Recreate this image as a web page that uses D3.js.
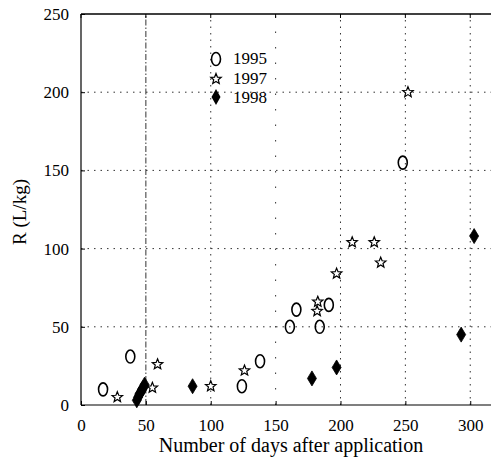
<!DOCTYPE html>
<html><head><meta charset="utf-8">
<script src="https://cdn.jsdelivr.net/npm/d3@7"></script>
<style>body{margin:0;background:#fff}svg{display:block}text{font-family:"Liberation Serif","Times New Roman",serif;fill:#000}</style>
</head><body><svg id="c" width="491" height="460"></svg>
<script>
const days1995 = [17, 38, 124, 138, 161, 166, 184, 191, 248];
const r1995    = [10, 31, 12, 28, 50, 61, 50, 64, 155];
const days1997 = [28, 55, 59, 100, 126, 182, 182.5, 197, 209, 226, 231, 252];
const r1997    = [5, 11, 26, 12, 22, 60, 66, 84, 104, 104, 91, 200];
const days1998 = [43, 44, 45, 46, 47, 48, 49, 86, 178, 197, 293, 303];
const r1998    = [3, 5, 7, 8, 10, 11, 13, 12, 17, 24, 45, 108];
const xTicks = [0, 50, 100, 150, 200, 250, 300];
const yTicks = [0, 50, 100, 150, 200, 250];
const legendLabels = ["1995", "1997", "1998"];

const svg = d3.select("#c");
const x = d3.scaleLinear().domain([0, 316]).range([81, 491]);
const y = d3.scaleLinear().domain([0, 250]).range([405, 14]);

// grid
const g = svg.append("g").attr("stroke", "#333").attr("stroke-width", 1).attr("stroke-dasharray", "1.5,5");
xTicks.filter(t => t > 0).forEach(t => g.append("line").attr("x1", x(t)).attr("x2", x(t)).attr("y1", y(0)).attr("y2", y(250)).attr("stroke-dasharray", t === 50 ? "6,2,1.5,2" : (t === 150 ? "1.5,14" : "1.5,5")));
yTicks.filter(t => t > 0 && t < 250).forEach(t => g.append("line").attr("x1", x(0)).attr("x2", 491).attr("y1", y(t)).attr("y2", y(t)));

// frame
const f = svg.append("g").attr("stroke", "#000").attr("stroke-width", 1.2).attr("fill", "none");
f.append("line").attr("x1", x(0)).attr("x2", x(0)).attr("y1", y(0)).attr("y2", y(250));
f.append("line").attr("x1", x(0)).attr("x2", 491).attr("y1", y(0)).attr("y2", y(0));
f.append("line").attr("x1", x(0)).attr("x2", 491).attr("y1", y(250)).attr("y2", y(250)).attr("stroke-width", 1.6);

// axes
const xa = svg.append("g").attr("transform", `translate(0,${y(0)})`)
  .call(d3.axisBottom(x).tickValues(xTicks).tickSize(-4).tickPadding(14).tickFormat(d3.format("d")));
xa.select(".domain").remove();
xa.selectAll("text").attr("font-size", 17).attr("font-family", "Liberation Serif");
xTicks.forEach(t => svg.append("line").attr("x1", x(t)).attr("x2", x(t)).attr("y1", y(250)).attr("y2", y(250) + 4).attr("stroke", "#000"));
const ya = svg.append("g").attr("transform", `translate(${x(0)},0)`)
  .call(d3.axisLeft(y).tickValues(yTicks).tickSize(-4).tickPadding(12).tickFormat(d3.format("d")));
ya.select(".domain").remove();
ya.selectAll("text").attr("font-size", 17).attr("font-family", "Liberation Serif");

// titles
svg.append("text").attr("x", 291).attr("y", 452).attr("text-anchor", "middle").attr("font-size", 20).text("Number of days after application");
svg.append("text").attr("transform", "translate(26,212) rotate(-90)").attr("text-anchor", "middle").attr("font-size", 19).text("R (L/kg)");

// markers
function starPath(cx, cy, ro, ri) {
  const pts = [];
  for (let i = 0; i < 10; i++) {
    const a = -Math.PI / 2 + i * Math.PI / 5, r = i % 2 ? ri : ro;
    pts.push([cx + r * Math.cos(a), cy + r * Math.sin(a)]);
  }
  return "M" + pts.map(p => p.join(",")).join("L") + "Z";
}
function diamondPath(cx, cy, w, h) {
  return `M${cx},${cy - h}L${cx + w},${cy}L${cx},${cy + h}L${cx - w},${cy}Z`;
}
const d95 = days1995.map((d, i) => ({d, r: r1995[i]}));
const d97 = days1997.map((d, i) => ({d, r: r1997[i]}));
const d98 = days1998.map((d, i) => ({d, r: r1998[i]}));

svg.append("g").selectAll("ellipse").data(d95).join("ellipse")
  .attr("cx", p => x(p.d)).attr("cy", p => y(p.r)).attr("rx", 4.5).attr("ry", 6.5)
  .attr("fill", "none").attr("stroke", "#000").attr("stroke-width", 1.6);
svg.append("g").selectAll("path").data(d97).join("path")
  .attr("d", p => starPath(x(p.d), y(p.r), 5.5, 2.4))
  .attr("fill", "#fff").attr("stroke", "#000").attr("stroke-width", 1.2);
svg.append("g").selectAll("path").data(d98).join("path")
  .attr("d", p => diamondPath(x(p.d), y(p.r), 4.5, 7.5))
  .attr("fill", "#000").attr("stroke", "#000").attr("stroke-width", 0.8);

// legend
const lg = svg.append("g");
const lx = 216, ly = [59, 79, 97];
lg.append("ellipse").attr("cx", lx).attr("cy", ly[0]).attr("rx", 4.5).attr("ry", 6.5).attr("fill", "none").attr("stroke", "#000").attr("stroke-width", 1.6);
lg.append("path").attr("d", starPath(lx, ly[1], 5.5, 2.4)).attr("fill", "#fff").attr("stroke", "#000").attr("stroke-width", 1.2);
lg.append("path").attr("d", diamondPath(lx, ly[2], 4.5, 8)).attr("fill", "#000");
const lt = [64, 84, 103];
legendLabels.forEach((t, i) => lg.append("text").attr("x", 233).attr("y", lt[i]).attr("font-size", 17).text(t));
</script></body></html>
